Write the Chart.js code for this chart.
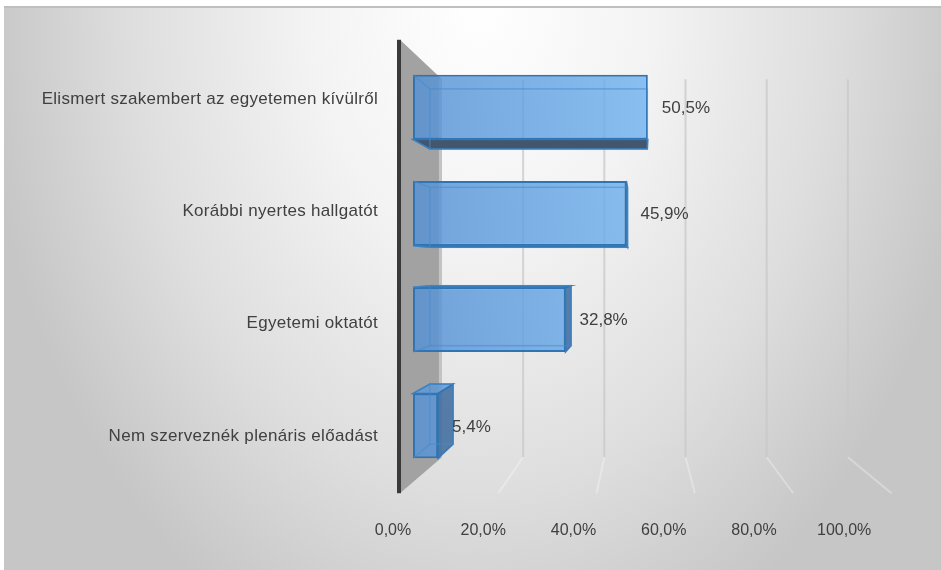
<!DOCTYPE html>
<html>
<head>
<meta charset="utf-8">
<script src="https://cdn.jsdelivr.net/npm/chart.js@4.4.1/dist/chart.umd.min.js"></script>
<style>
  html, body { margin: 0; padding: 0; background: #ffffff; }
  #wrap { width: 941px; height: 570px; position: relative; }
</style>
</head>
<body>
<div id="wrap"><canvas id="chart" width="941" height="570"></canvas></div>
<script>
// Survey answers (share of respondents, %)
const categories = [
  'Elismert szakembert az egyetemen kívülről',
  'Korábbi nyertes hallgatót',
  'Egyetemi oktatót',
  'Nem szerveznék plenáris előadást'
];
const shares = [50.5, 45.9, 32.8, 5.4];
const tickValues = [0, 20, 40, 60, 80, 100];

const FONT = "'Liberation Sans', Arial, sans-serif";
const TEXT = '#404040';
const fmt = v => v.toFixed(1).replace('.', ',') + '%';

// Depth factors of the pseudo-3D box, relative to the bars' front plane
const K_BACK = 0.873;   // back wall
const K_FRONT = 1.057;  // front edge of side wall / floor
const K_BAR = 0.926;    // rear face of each bar

function geometry(chart) {
  const xs = chart.scales.x;
  const ca = chart.chartArea;
  const vx = xs.getPixelForValue(49);
  const vy = (ca.top + ca.bottom) / 2;
  const P = (x, y, k) => [vx + k * (x - vx), vy + k * (y - vy)];
  return { xs, ca, vx, vy, P };
}

function poly(ctx, pts, fill, stroke, lw) {
  ctx.beginPath();
  ctx.moveTo(pts[0][0], pts[0][1]);
  for (let i = 1; i < pts.length; i++) ctx.lineTo(pts[i][0], pts[i][1]);
  ctx.closePath();
  if (fill) { ctx.fillStyle = fill; ctx.fill(); }
  if (stroke) { ctx.strokeStyle = stroke; ctx.lineWidth = lw || 1; ctx.stroke(); }
}

function barBox(el) {
  const p = el.getProps(['x', 'y', 'base', 'height'], true);
  const l = Math.min(p.x, p.base), r = Math.max(p.x, p.base);
  return { l, r, t: p.y - p.height / 2, b: p.y + p.height / 2, cy: p.y };
}

const scene = {
  id: 'scene',
  beforeDraw(chart) {
    const ctx = chart.ctx;
    ctx.save();
    // panel background
    ctx.fillStyle = '#ffffff';
    ctx.fillRect(0, 0, 941, 570);
    ctx.save();
    ctx.beginPath();
    ctx.rect(4, 8, 937, 562);
    ctx.clip();
    ctx.translate(480, 0);
    ctx.scale(1, 1.4);
    const g = ctx.createRadialGradient(0, 0, 0, 0, 0, 500);
    g.addColorStop(0, '#ffffff');
    g.addColorStop(0.35, '#f3f3f3');
    g.addColorStop(0.7, '#dedede');
    g.addColorStop(1, '#c6c6c6');
    ctx.fillStyle = g;
    ctx.fillRect(-480, -10, 941, 420);
    ctx.restore();
    ctx.fillStyle = '#bfbfbf';
    ctx.fillRect(4, 6, 937, 2);
    ctx.restore();
  },
  beforeDatasetsDraw(chart) {
    const ctx = chart.ctx;
    const { xs, ca, P } = geometry(chart);
    const topY = ca.top - 2, botBack = ca.bottom + 6, botFront = ca.bottom + 2;
    ctx.save();

    // gridlines on the back wall and across the floor
    tickValues.slice(1).forEach(v => {
      const x = xs.getPixelForValue(v);
      const a = P(x, topY, K_BACK), b = P(x, botBack, K_BACK), f = P(x, botFront, K_FRONT);
      ctx.lineWidth = 2;
      ctx.strokeStyle = 'rgba(200,200,200,0.75)';
      ctx.beginPath(); ctx.moveTo(a[0], a[1]); ctx.lineTo(b[0], b[1]); ctx.stroke();
      ctx.strokeStyle = 'rgba(255,255,255,0.3)';
      ctx.beginPath(); ctx.moveTo(b[0], b[1]); ctx.lineTo(f[0], f[1]); ctx.stroke();
    });

    // side wall
    const x0 = xs.getPixelForValue(0);
    const ft = P(x0, topY, K_FRONT), bt = P(x0, topY, K_BACK);
    const bb = P(x0, botBack, K_BACK), fb = P(x0, botFront, K_FRONT);
    poly(ctx, [ft, bt, bb, fb], '#a2a2a2');
    ctx.fillStyle = 'rgba(210,210,210,0.7)';
    ctx.fillRect(bt[0] - 3, bt[1], 3, bb[1] - bt[1]);
    ctx.fillStyle = '#3a3a3a';
    ctx.fillRect(ft[0] - 3, ft[1], 4, fb[1] - ft[1]);

    // hidden faces of the bars
    const meta = chart.getDatasetMeta(0);
    meta.data.forEach(el => {
      const { l, r, t, b } = barBox(el);
      const [bl, btY] = P(l, t, K_BAR);
      const [br, bbY] = P(r, b, K_BAR);
      const edge = 'rgba(46,117,182,0.9)';
      if (bbY > b + 0.5) poly(ctx, [[l, b], [r, b], [br, bbY], [bl, bbY]], '#44566c', edge, 1.5);
      if (btY < t - 0.5) poly(ctx, [[l, t], [r, t], [br, btY], [bl, btY]], 'rgba(96,152,214,0.85)', edge, 1.5);
      if (br > r + 0.5) poly(ctx, [[r, t], [br, btY], [br, bbY], [r, b]], 'rgba(60,104,156,0.85)', edge, 1.5);
    });
    ctx.restore();
  },
  afterDatasetsDraw(chart) {
    const ctx = chart.ctx;
    const { ca, vy, P } = geometry(chart);
    const meta = chart.getDatasetMeta(0);
    ctx.save();
    meta.data.forEach((el, i) => {
      const { l, r, t, b, cy } = barBox(el);
      const [bl, btY] = P(l, t, K_BAR);
      const [br, bbY] = P(r, b, K_BAR);
      // rear edges seen through the translucent front
      ctx.strokeStyle = 'rgba(70,140,205,0.55)';
      ctx.lineWidth = 1.5;
      ctx.strokeRect(bl, btY, br - bl, bbY - btY);
      ctx.beginPath();
      ctx.moveTo(l, t); ctx.lineTo(bl, btY);
      ctx.moveTo(l, b); ctx.lineTo(bl, bbY);
      ctx.stroke();

      ctx.fillStyle = TEXT;
      ctx.font = '17px ' + FONT;
      ctx.textBaseline = 'middle';

      // value label
      ctx.letterSpacing = '0px';
      ctx.textAlign = 'left';
      ctx.fillText(fmt(shares[i]), r + 14, cy + 1);

      // category label, placed on the front plane
      ctx.letterSpacing = '0.3px';
      ctx.textAlign = 'right';
      ctx.fillText(categories[i], ca.left - 15, vy + K_FRONT * (cy - vy) + 1);
    });
    ctx.restore();
  }
};

new Chart(document.getElementById('chart'), {
  type: 'bar',
  data: {
    labels: categories,
    datasets: [{
      data: shares,
      backgroundColor: ctx => {
        const chart = ctx.chart;
        if (!chart.chartArea) return 'rgba(110,176,240,0.8)';
        const xs = chart.scales.x;
        const g = chart.ctx.createLinearGradient(xs.getPixelForValue(0), 0, xs.getPixelForValue(55), 0);
        g.addColorStop(0, 'rgba(85,145,212,0.82)');
        g.addColorStop(1, 'rgba(112,180,242,0.8)');
        return g;
      },
      borderColor: '#2f74b5',
      borderWidth: 2,
      borderSkipped: false,
      barPercentage: 0.61,
      categoryPercentage: 1
    }]
  },
  options: {
    indexAxis: 'y',
    responsive: false,
    animation: false,
    devicePixelRatio: 1,
    layout: { padding: { top: 54, right: 63, left: 0, bottom: 0 } },
    plugins: { legend: { display: false }, tooltip: { enabled: false } },
    scales: {
      x: { display: false, min: -4.3, max: 100 },
      x2: {
        type: 'linear',
        position: 'bottom',
        min: 0,
        max: 107.5,
        afterBuildTicks: s => { s.ticks = tickValues.map(v => ({ value: v })); },
        ticks: {
          callback: v => fmt(v),
          font: { size: 16, family: FONT },
          color: TEXT,
          padding: 42,
          autoSkip: false,
          maxRotation: 0
        },
        grid: { display: false, drawTicks: false },
        border: { display: false },
        afterFit: s => { s.height = 91; }
      },
      y: {
        ticks: { display: false },
        grid: { display: false, drawTicks: false },
        border: { display: false },
        afterFit: s => { s.width = 393; }
      }
    }
  },
  plugins: [scene]
});
</script>
</body>
</html>
